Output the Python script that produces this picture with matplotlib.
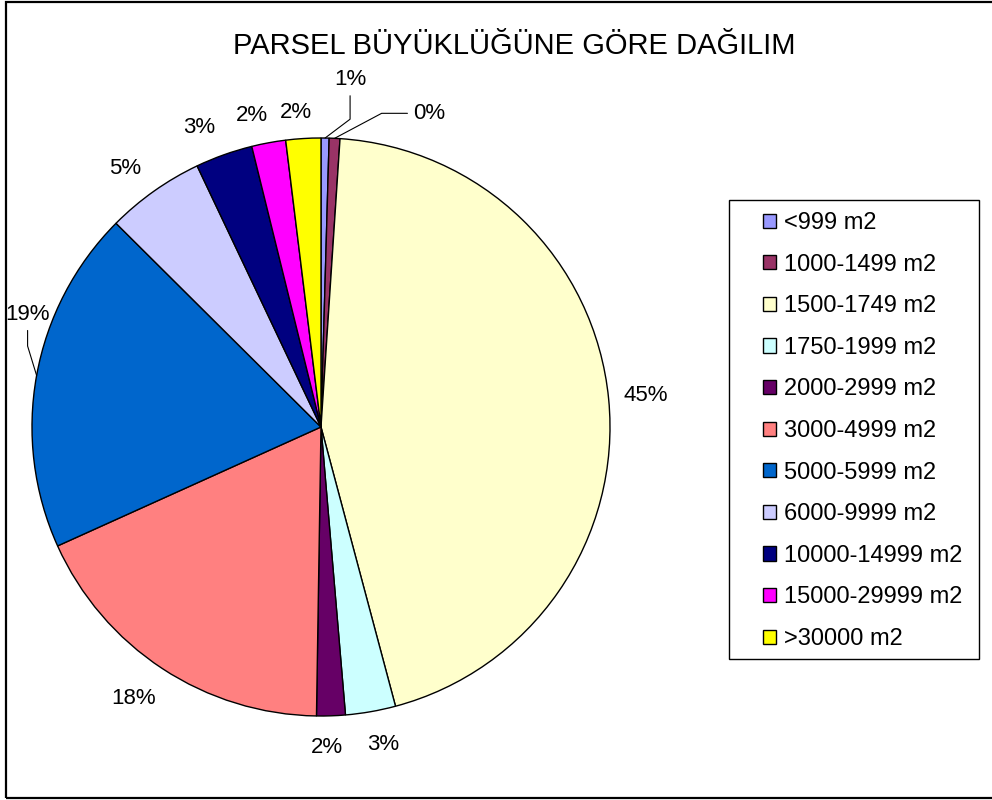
import numpy as np
import matplotlib.pyplot as plt
from matplotlib.patches import Rectangle

plt.rcParams['font.family'] = ['Liberation Sans', 'DejaVu Sans']

categories = ['<999 m2', '1000-1499 m2', '1500-1749 m2', '1750-1999 m2',
              '2000-2999 m2', '3000-4999 m2', '5000-5999 m2', '6000-9999 m2',
              '10000-14999 m2', '15000-29999 m2', '>30000 m2']
values = [0.45, 0.6, 44.8, 2.8, 1.6, 18.0, 19.2, 5.5, 3.2, 1.9, 1.95]
pct_labels = ['1%', '0%', '45%', '3%', '2%', '18%', '19%', '5%', '3%', '2%', '2%']
colors = ['#9999FF', '#993366', '#FFFFCC', '#CCFFFF', '#660066', '#FF8080',
          '#0066CC', '#CCCCFF', '#000080', '#FF00FF', '#FFFF00']

W, H = 992, 800
fig = plt.figure(figsize=(W / 100, H / 100), dpi=100)
# outer chart border (right edge runs off the picture)
fig.patches.append(Rectangle((6 / W, 2 / H), 1.0, 796 / H, transform=fig.transFigure,
                             fill=False, edgecolor='black', linewidth=1.6))

cx, cy, r = 321, 427, 289
ax = fig.add_axes([(cx - r) / W, (H - cy - r) / H, 2 * r / W, 2 * r / H])
wedges, _ = ax.pie(values, colors=colors, startangle=90, counterclock=False,
                   wedgeprops=dict(edgecolor='black', linewidth=1))
ax.set_xlim(-1, 1)
ax.set_ylim(-1, 1)
ax.set_aspect('equal')
ax.axis('off')

# labels with leader lines: offset (points), angleA, angleB
leaders = {0: ((18, 42), 90, 37), 1: ((68, 18), 0, 28), 6: ((-6.5, 44), 90, 107)}
# small nudges (points) for the plain labels
nudges = {3: (4, 3), 4: (-4, 4), 5: (-6, 1), 7: (-5, -6), 8: (-9, -6),
          9: (-7, -7), 10: (-4, -8)}
for i, w in enumerate(wedges):
    ang = np.deg2rad((w.theta1 + w.theta2) / 2)
    x, y = np.cos(ang), np.sin(ang)
    if i in leaders:
        off, angA, angB = leaders[i]
        ax.annotate(pct_labels[i], xy=(x, y), xytext=off, textcoords='offset points',
                    ha='center', va='center', fontsize=16, annotation_clip=False,
                    arrowprops=dict(arrowstyle='-', color='black', lw=0.8,
                                    connectionstyle=f'angle,angleA={angA},angleB={angB},rad=0',
                                    shrinkA=2, shrinkB=0))
    else:
        ax.annotate(pct_labels[i], xy=(1.13 * x, 1.13 * y), xytext=nudges.get(i, (0, 0)),
                    textcoords='offset points', ha='center', va='center', fontsize=16,
                    annotation_clip=False)

fig.text(0.518, 0.943, 'PARSEL BÜYÜKLÜĞÜNE GÖRE DAĞILIM', ha='center', va='center',
         fontsize=21)

# legend box drawn separately so the inner padding can match
fig.patches.append(Rectangle((729 / W, 1 - 659 / H), 250 / W, 459 / H,
                             transform=fig.transFigure, fill=False,
                             edgecolor='black', linewidth=1))
leg = fig.legend(wedges, categories, loc='upper left',
                 bbox_to_anchor=(763 / W, 1 - 212 / H), fontsize=17, frameon=False,
                 handlelength=0.55, handleheight=0.55, labelspacing=0.83,
                 handletextpad=0.35, borderpad=0, borderaxespad=0)

fig.savefig('out.png', dpi=100)
